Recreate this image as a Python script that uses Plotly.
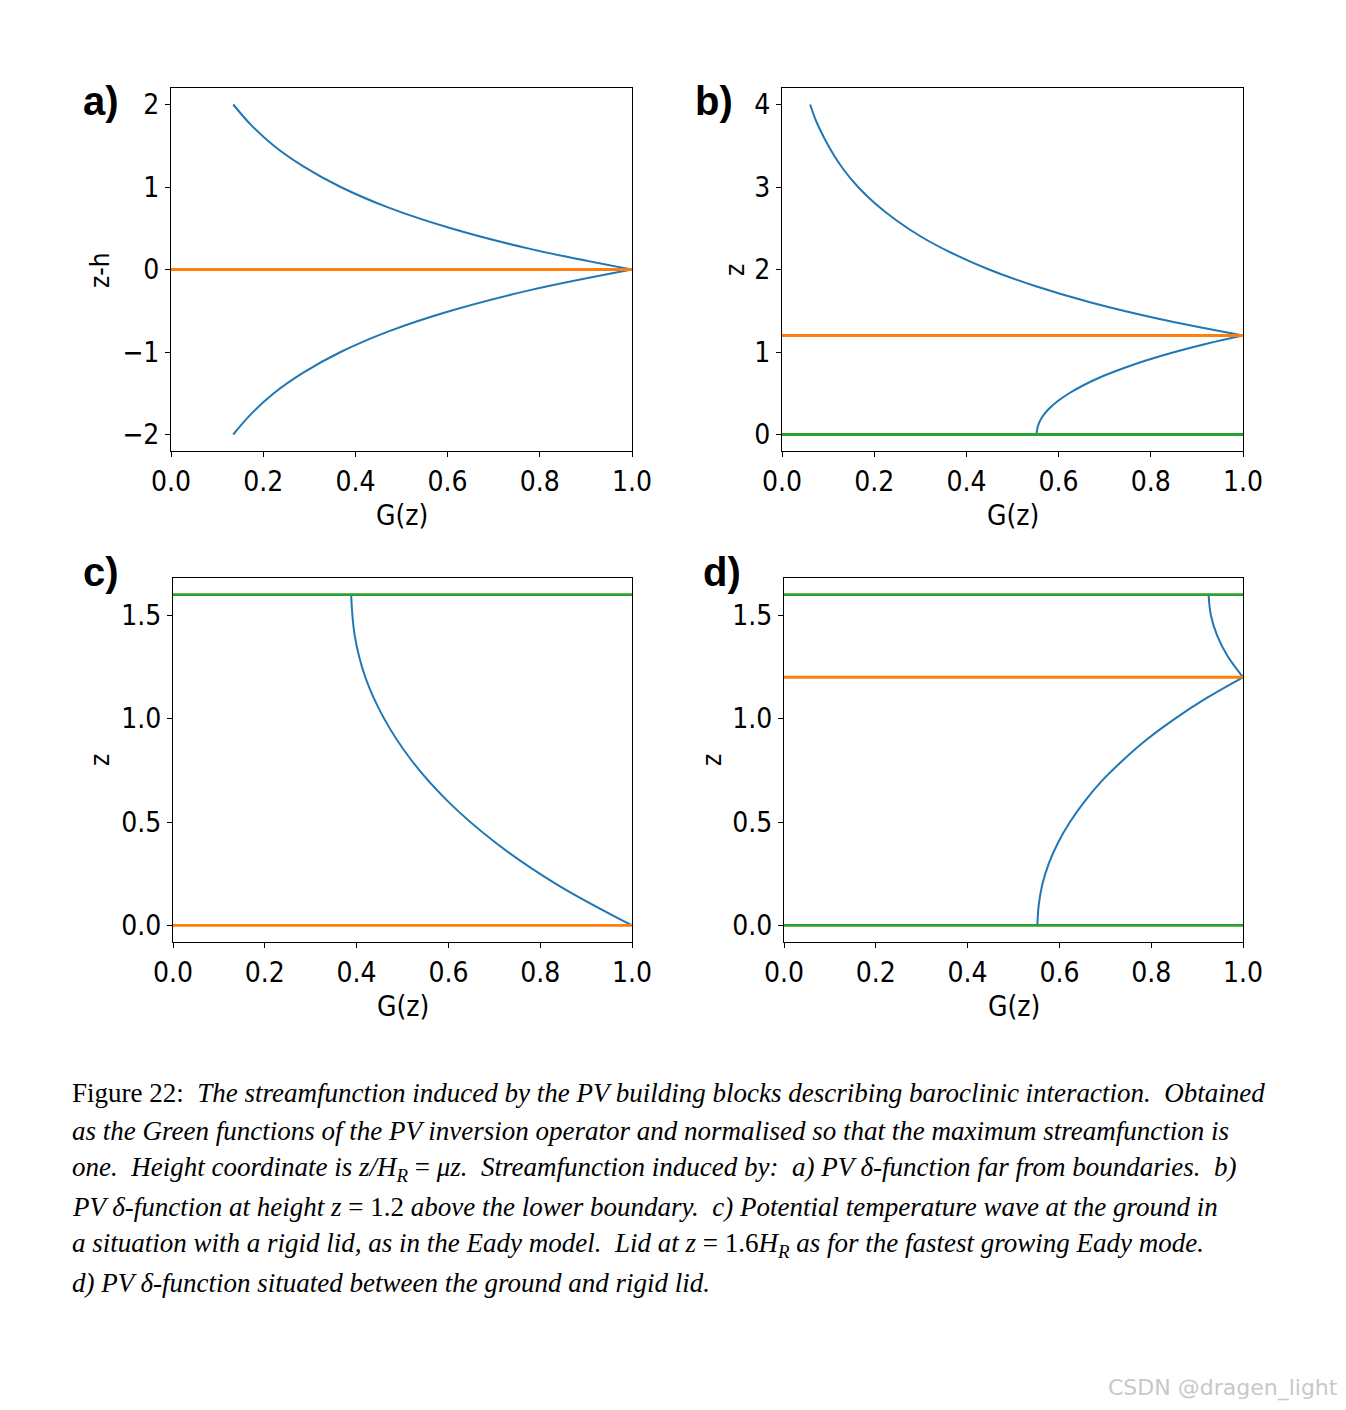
import plotly.graph_objects as go

W, H = 1346, 1410
OFF = 8  # page body margin in the browser

# ---------------- data ----------------
a_z_upper = [0.0, 0.25, 0.5, 0.75, 1.0, 1.25, 1.5, 1.75, 2.0]
a_G_upper = [1.0, 0.779, 0.607, 0.472, 0.368, 0.287, 0.223, 0.174, 0.135]
a_z_lower = [0.0, -0.25, -0.5, -0.75, -1.0, -1.25, -1.5, -1.75, -2.0]
a_G_lower = [1.0, 0.779, 0.607, 0.472, 0.368, 0.287, 0.223, 0.174, 0.135]

b_z_upper = [1.2, 1.4, 1.6, 1.8, 2.0, 2.2, 2.4, 2.6, 2.8, 3.0, 3.2, 3.4, 3.6, 3.8, 4.0]
b_G_upper = [1.0, 0.819, 0.670, 0.549, 0.449, 0.368, 0.301, 0.247, 0.202, 0.165, 0.135, 0.111, 0.091, 0.074, 0.061]
b_z_lower = [0.0, 0.1, 0.2, 0.3, 0.4, 0.5, 0.6, 0.7, 0.8, 0.9, 1.0, 1.1, 1.2]
b_G_lower = [0.552, 0.555, 0.563, 0.577, 0.597, 0.623, 0.655, 0.693, 0.739, 0.791, 0.852, 0.921, 1.0]

c_z = [0.0, 0.2, 0.4, 0.6, 0.8, 1.0, 1.2, 1.4, 1.6]
c_G = [1.0, 0.835, 0.703, 0.599, 0.519, 0.460, 0.419, 0.396, 0.388]

d_z_lower = [0.0, 0.1, 0.2, 0.3, 0.4, 0.5, 0.6, 0.7, 0.8, 0.9, 1.0, 1.1, 1.2]
d_G_lower = [0.552, 0.555, 0.563, 0.577, 0.597, 0.623, 0.655, 0.693, 0.739, 0.791, 0.852, 0.921, 1.0]
d_z_upper = [1.2, 1.3, 1.4, 1.5, 1.6]
d_G_upper = [1.0, 0.967, 0.944, 0.930, 0.925]

# horizontal reference levels (orange = PV / source, green = boundaries)
a_orange = [0.0]
a_green = []
b_orange = [1.2]
b_green = [0.0]
c_orange = [0.0]
c_green = [1.6]
d_orange = [1.2]
d_green = [0.0, 1.6]

x_ticks = [0.0, 0.2, 0.4, 0.6, 0.8, 1.0]
a_yticks = [-2, -1, 0, 1, 2]
b_yticks = [0, 1, 2, 3, 4]
cd_yticks = [0.0, 0.5, 1.0, 1.5]

panel_labels = ["a)", "b)", "c)", "d)"]
y_titles = ["z-h", "z", "z", "z"]
x_title = "G(z)"

caption_lines = [
    "Figure 22:  <i>The streamfunction induced by the PV building blocks describing baroclinic interaction.  Obtained</i>",
    "<i>as the Green functions of the PV inversion operator and normalised so that the maximum streamfunction is</i>",
    "<i>one.  Height coordinate is z/H<sub>R</sub></i> = <i>μz.  Streamfunction induced by:  a) PV δ-function far from boundaries.  b)</i>",
    "<i>PV δ-function at height z</i> = 1.2 <i>above the lower boundary.  c) Potential temperature wave at the ground in</i>",
    "<i>a situation with a rigid lid, as in the Eady model.  Lid at z</i> = 1.6<i>H<sub>R</sub> as for the fastest growing Eady mode.</i>",
    "<i>d) PV δ-function situated between the ground and rigid lid.</i>",
]
watermark = "CSDN @dragen_light"

BLUE, ORANGE, GREEN = "#1f77b4", "#ff7f0e", "#2ca02c"

def px(x):
    return (x - OFF) / W

def py(y):
    return 1 - (y - OFF) / H

# ---------------- layout geometry (pixels in the page) ----------------
boxes = {  # x0, x1, ytop, ybottom
    1: (171, 632, 88, 451),
    2: (782, 1243, 88, 451),
    3: (173, 632, 578, 942),
    4: (784, 1243, 578, 942),
}
yranges = {1: [-2.2, 2.2], 2: [-0.2, 4.2], 3: [-0.08, 1.68], 4: [-0.08, 1.68]}
yticks = {1: a_yticks, 2: b_yticks, 3: cd_yticks, 4: cd_yticks}

fig = go.Figure()

def add_curve(k, G, z):
    ax = "" if k == 1 else str(k)
    fig.add_trace(go.Scatter(x=G, y=z, mode="lines", xaxis="x" + ax, yaxis="y" + ax,
                             line=dict(color=BLUE, width=2.0, shape="spline", smoothing=1.0),
                             showlegend=False, hoverinfo="skip"))

def add_level(k, lvl, color):
    ax = "" if k == 1 else str(k)
    fig.add_trace(go.Scatter(x=[0, 1], y=[lvl, lvl], mode="lines", xaxis="x" + ax, yaxis="y" + ax,
                             line=dict(color=color, width=2.8), showlegend=False, hoverinfo="skip"))

add_curve(1, a_G_upper, a_z_upper)
add_curve(1, a_G_lower, a_z_lower)
for v in a_orange: add_level(1, v, ORANGE)
for v in a_green: add_level(1, v, GREEN)

add_curve(2, b_G_upper, b_z_upper)
add_curve(2, b_G_lower, b_z_lower)
for v in b_orange: add_level(2, v, ORANGE)
for v in b_green: add_level(2, v, GREEN)

add_curve(3, c_G, c_z)
for v in c_orange: add_level(3, v, ORANGE)
for v in c_green: add_level(3, v, GREEN)

add_curve(4, d_G_lower, d_z_lower)
add_curve(4, d_G_upper, d_z_upper)
for v in d_orange: add_level(4, v, ORANGE)
for v in d_green: add_level(4, v, GREEN)

tickfont = dict(family="DejaVu Sans Condensed, DejaVu Sans", size=28, color="black")
layout = dict(width=W, height=H, margin=dict(l=0, r=0, t=0, b=0, autoexpand=False),
              paper_bgcolor="white", plot_bgcolor="white", showlegend=False)

annotations = []
for k, (x0, x1, yt, yb) in boxes.items():
    ax = "" if k == 1 else str(k)
    layout["xaxis" + ax] = dict(domain=[px(x0), px(x1)], range=[0, 1], anchor="y" + ax,
                                automargin=False,
                                tickmode="array", tickvals=x_ticks,
                                ticktext=[f"{v:.1f}" for v in x_ticks],
                                ticks="outside", ticklen=5, tickwidth=1, tickcolor="black",
                                showline=True, linecolor="black", linewidth=1, mirror=True,
                                showgrid=False, zeroline=False, tickfont=tickfont)
    ytv = yticks[k]
    ytt = [(f"{v:.1f}" if k >= 3 else f"{v:d}").replace("-", "\u2212") for v in ytv]
    layout["yaxis" + ax] = dict(domain=[py(yb), py(yt)], range=yranges[k], anchor="x" + ax,
                                automargin=False,
                                tickmode="array", tickvals=ytv, ticktext=ytt,
                                ticks="outside", ticklen=5, tickwidth=1, tickcolor="black",
                                showline=True, linecolor="black", linewidth=1, mirror=True,
                                showgrid=False, zeroline=False, tickfont=tickfont)
    annotations.append(dict(text=x_title, x=px((x0 + x1) / 2), y=py(yb + 64),
                            xref="paper", yref="paper", showarrow=False,
                            xanchor="center", yanchor="middle",
                            font=dict(family="DejaVu Sans Condensed, DejaVu Sans", size=28, color="black")))

# y titles
ytitle_pos = {1: (100, 270), 2: (735, 270), 3: (100, 760), 4: (712, 760)}
for k, (x, y) in ytitle_pos.items():
    annotations.append(dict(text=y_titles[k - 1], x=px(x), y=py(y), xref="paper", yref="paper",
                            showarrow=False, textangle=-90, xanchor="center", yanchor="middle",
                            font=dict(family="DejaVu Sans Condensed, DejaVu Sans", size=26, color="black")))

# panel labels
label_pos = {1: (101, 101), 2: (714, 101), 3: (101, 572), 4: (722, 572)}
for k, (x, y) in label_pos.items():
    annotations.append(dict(text="<b>" + panel_labels[k - 1] + "</b>", x=px(x), y=py(y),
                            xref="paper", yref="paper", showarrow=False,
                            xanchor="center", yanchor="middle",
                            font=dict(family="Liberation Sans", size=40, color="black")))

# caption
for i, line in enumerate(caption_lines):
    annotations.append(dict(text=line, x=px(70), y=py(1093 + 38 * i), xref="paper", yref="paper",
                            showarrow=False, xanchor="left", yanchor="middle", align="left",
                            font=dict(family="Liberation Serif", size=27, color="black")))

annotations.append(dict(text=watermark, x=px(1340), y=py(1388), xref="paper", yref="paper",
                        showarrow=False, xanchor="right", yanchor="middle",
                        font=dict(family="DejaVu Sans", size=22, color="#c8c8c8")))

layout["annotations"] = annotations
fig.update_layout(**layout)
fig.write_html("out.html")
